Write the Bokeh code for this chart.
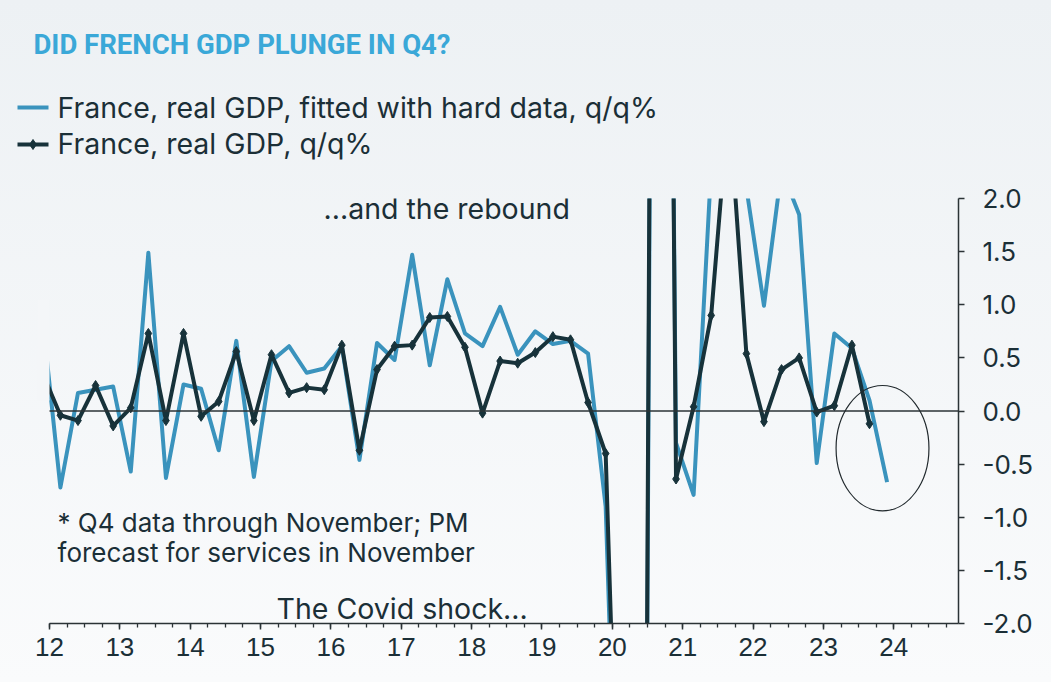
from bokeh.plotting import figure
from bokeh.layouts import column
from bokeh.models import (Label, FixedTicker, NumeralTickFormatter,
                          ColumnDataSource, Range1d)
from bokeh.core.properties import value
from bokeh.embed import file_html
from bokeh.resources import INLINE

# Quarterly French real GDP growth, q/q %, 2011Q4 .. 2023Q4
quarters = [f"{y}Q{q}" for y in range(2011, 2024) for q in range(1, 5)][3:]

gdp_fitted = [
    0.85,                                   # 2011Q4
    -0.72, 0.17, 0.20, 0.23,                # 2012
    -0.57, 1.49, -0.63, 0.25,               # 2013
    0.21, -0.37, 0.66, -0.62,               # 2014
    0.47, 0.61, 0.36, 0.40,                 # 2015
    0.61, -0.46, 0.64, 0.48,                # 2016
    1.47, 0.43, 1.24, 0.73,                 # 2017
    0.61, 0.98, 0.53, 0.75,                 # 2018
    0.63, 0.66, 0.54, -0.90,                # 2019
    -6.0, -13.5, 17.5, -0.30,               # 2020
    -0.79, 2.30, 3.40, 2.10,                # 2021
    0.99, 2.27, 1.85, -0.49,                # 2022
    0.73, 0.59, 0.10, -0.67,                # 2023 (Q4 estimate*)
]

gdp_actual = [
    0.35,                                   # 2011Q4
    -0.04, -0.09, 0.24, -0.14,              # 2012
    0.03, 0.73, -0.09, 0.73,                # 2013
    -0.05, 0.09, 0.56, -0.09,               # 2014
    0.53, 0.17, 0.22, 0.20,                 # 2015
    0.62, -0.37, 0.39, 0.61,                # 2016
    0.62, 0.88, 0.89, 0.60,                 # 2017
    -0.02, 0.47, 0.45, 0.55,                # 2018
    0.70, 0.67, 0.08, -0.40,                # 2019
    -5.7, -13.5, 18.7, -0.64,               # 2020
    0.04, 0.90, 2.90, 0.54,                 # 2021
    -0.10, 0.39, 0.50, -0.01,               # 2022
    0.05, 0.62, -0.12,                      # 2023
]

series_labels = ["France, real GDP, fitted with hard data, q/q%",
                 "France, real GDP, q/q%"]
title_text = "DID FRENCH GDP PLUNGE IN Q4?"

year_ticks = list(range(12, 25))
value_ticks = [-2.0, -1.5, -1.0, -0.5, 0.0, 0.5, 1.0, 1.5, 2.0]

TEXT = "#1b2f37"
BLUE = "#3a93bd"
DARK = "#17323a"
AXIS = "#2b3336"
TITLE_BLUE = "#3aa8d8"
FONT = "Inter"

W, H = 1051, 682
HEAD_H = 170          # header strip with title and legend
RIGHT = 93            # room for the value axis
X0, X1 = 12.0, 24.92  # visible time span of the axis
PAD_L = 49            # blank strip left of the time axis
PX_PER_YEAR = (W - RIGHT - PAD_L) / (X1 - X0)


def qpos(label):
    # two-digit year axis, points placed mid-quarter
    y, q = int(label[:4]), int(label[-1])
    return (y - 2000) + (q - 1) * 0.25 + 0.155


x_fit = [qpos(q) for q in quarters]
x_act = [qpos(q) for q in quarters[:len(gdp_actual)]]

src_fit = ColumnDataSource(dict(x=x_fit, y=gdp_fitted))
src_act = ColumnDataSource(dict(x=x_act, y=gdp_actual))

# ---- header: title + legend (pixel coordinates, y downwards) ----
head = figure(width=W, height=HEAD_H, x_range=Range1d(0, W - RIGHT),
              y_range=Range1d(HEAD_H, 0),
              x_axis_type=None, y_axis_type=None, output_backend="svg",
              toolbar_location=None, min_border_left=0, min_border_right=RIGHT,
              min_border_top=0, min_border_bottom=0)
head.border_fill_alpha = 0
head.background_fill_alpha = 0
head.outline_line_color = None
head.grid.visible = False

head.text(x=[33], y=[44], text=[title_text], text_font=value("Roboto"),
          text_font_style="bold", text_font_size="27.5px", text_color=TITLE_BLUE,
          text_baseline="middle")
head.segment(x0=[17], y0=[107], x1=[48], y1=[107], line_color=BLUE, line_width=4)
head.segment(x0=[17], y0=[144], x1=[48], y1=[144], line_color=DARK, line_width=4)
head.scatter(x=[32.5], y=[144], marker="diamond", size=10, fill_color=DARK, line_color=DARK)
head.text(x=[57, 57], y=[107, 143], text=series_labels, text_font=value(FONT),
          text_font_size="28.5px", text_color=TEXT, text_baseline="middle")

# ---- main chart ----
p = figure(width=W, height=H - HEAD_H,
           x_range=Range1d(X0 - PAD_L / PX_PER_YEAR, X1), y_range=Range1d(-2, 2),
           y_axis_location="right", output_backend="svg", toolbar_location=None,
           min_border_left=0, min_border_right=RIGHT, min_border_top=198 - HEAD_H,
           min_border_bottom=59)
p.border_fill_alpha = 0
p.background_fill_alpha = 0
p.outline_line_color = None
p.grid.visible = False

xa = p.xaxis[0]
xa.bounds = (X0, X1)
xa.ticker = FixedTicker(ticks=year_ticks,
                        minor_ticks=[12 + 0.25 * i for i in range(0, 52)])
xa.axis_line_color = AXIS
xa.axis_line_width = 1.5
xa.major_tick_line_color = AXIS
xa.major_tick_line_width = 1.5
xa.major_tick_in = 0
xa.major_tick_out = 6
xa.minor_tick_line_color = AXIS
xa.minor_tick_line_width = 1.3
xa.minor_tick_in = 0
xa.minor_tick_out = 4
xa.major_label_text_font = "Liberation Sans"
xa.major_label_text_font_size = "26px"
xa.major_label_text_color = TEXT
xa.major_label_standoff = 8

ya = p.yaxis[0]
ya.ticker = FixedTicker(ticks=value_ticks, minor_ticks=[])
ya.formatter = NumeralTickFormatter(format="0.0")
ya.axis_line_color = AXIS
ya.axis_line_width = 1.5
ya.major_tick_line_color = AXIS
ya.major_tick_line_width = 1.5
ya.major_tick_in = 0
ya.major_tick_out = 6
ya.minor_tick_line_color = None
ya.major_label_text_font = FONT
ya.major_label_text_font_size = "26px"
ya.major_label_text_color = TEXT
ya.major_label_standoff = 18

# series
p.line("x", "y", source=src_fit, line_color=BLUE, line_width=4, line_join="round")
p.line("x", "y", source=src_act, line_color=DARK, line_width=4, line_join="round")
p.scatter("x", "y", source=src_act, marker="diamond", size=10,
          fill_color=DARK, line_color=DARK)

# series are cut at the start of the time axis
p.quad(left=X0 - 12 / PX_PER_YEAR, right=X0, bottom=0.1, top=1.05,
       fill_color="#f4f6f8", line_color=None)

# zero line
p.segment(x0=X0, y0=0, x1=X1, y1=0, line_color=AXIS, line_width=1.3)

# highlight around the latest estimate
p.ellipse(x=23.84, y=-0.35, width=1.32, height=1.18, fill_alpha=0,
          line_color="#222a2e", line_width=1.2)

# notes inside the plot
p.add_layout(Label(x=15.895, y=1.906, text="...and the rebound",
                   text_font=FONT, text_font_size="28.5px", text_color=TEXT,
                   text_baseline="middle"))
p.add_layout(Label(x=15.227, y=-1.859, text="The Covid shock...",
                   text_font=FONT, text_font_size="28.5px", text_color=TEXT,
                   text_baseline="middle"))
p.add_layout(Label(x=12.114, y=-1.049, text="* Q4 data through November; PM",
                   text_font=FONT, text_font_size="26px", text_color=TEXT,
                   text_baseline="middle"))
p.add_layout(Label(x=12.114, y=-1.332, text="forecast for services in November",
                   text_font=FONT, text_font_size="26px", text_color=TEXT,
                   text_baseline="middle"))

page = column(head, p, spacing=0,
              styles={"background": "linear-gradient(#edf1f4, #fafbfc)"})

open("out.html", "w").write(file_html(page, INLINE))
